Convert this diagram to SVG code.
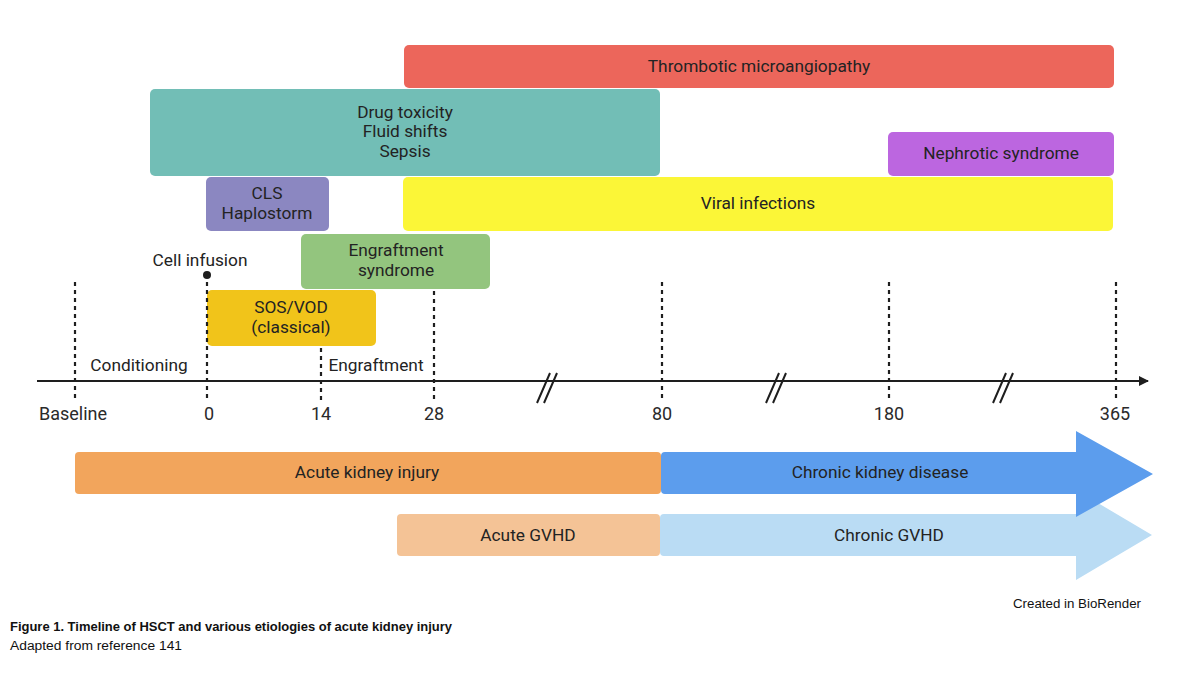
<svg xmlns="http://www.w3.org/2000/svg" width="1200" height="675" viewBox="0 0 1200 675">
<defs>
<style>
.lbl{font-family:Roboto,"Liberation Sans",sans-serif;font-size:17.3px;fill:#232323;text-anchor:middle}
.tick{font-family:Roboto,"Liberation Sans",sans-serif;font-size:18px;fill:#2a2a2a;text-anchor:middle}
.dot{stroke:#1e1e1e;stroke-width:2.2;stroke-dasharray:4 4;fill:none}
.cap{font-family:"Liberation Sans",Arial,sans-serif;font-size:12.5px;fill:#111}
.brk{stroke:#1e1e1e;stroke-width:2;fill:none}
</style>
<marker id="ah" markerWidth="10" markerHeight="10" refX="9" refY="5" orient="auto" markerUnits="userSpaceOnUse">
<path d="M0,0 L10,5 L0,10 Z" fill="#1e1e1e"/>
</marker>
</defs>
<rect width="1200" height="675" fill="#fff"/>

<g id="tma"><rect x="404" y="45" width="710" height="43" rx="5" fill="#ec665b"/><text class="lbl" x="759" y="72">Thrombotic microangiopathy</text></g>
<g id="drug"><rect x="150" y="89" width="510" height="87" rx="5" fill="#72beb6"/><text class="lbl" x="405" y="118">Drug toxicity</text><text class="lbl" x="405" y="137">Fluid shifts</text><text class="lbl" x="405" y="157">Sepsis</text></g>
<g id="nephrotic"><rect x="888" y="132" width="226" height="44" rx="5" fill="#bc66e0"/><text class="lbl" x="1001" y="159">Nephrotic syndrome</text></g>
<g id="cls"><rect x="206" y="177" width="123" height="54" rx="5" fill="#8b87c1"/><text class="lbl" x="267" y="199">CLS</text><text class="lbl" x="267" y="219">Haplostorm</text></g>
<g id="viral"><rect x="403" y="177" width="710" height="54" rx="5" fill="#fbf637"/><text class="lbl" x="758" y="209">Viral infections</text></g>
<g id="engraft-syn"><rect x="301" y="234" width="189" height="55" rx="5" fill="#93c57e"/><text class="lbl" x="396" y="256">Engraftment</text><text class="lbl" x="396" y="276">syndrome</text></g>
<g id="sos"><rect x="207" y="290" width="169" height="56" rx="5" fill="#f1c41a"/><text class="lbl" x="291" y="313">SOS/VOD</text><text class="lbl" x="291" y="333">(classical)</text></g>

<g id="connectors">
<line x1="37" y1="381" x2="1148" y2="381" stroke="#1e1e1e" stroke-width="2" marker-end="url(#ah)"/>
<line class="dot" x1="75" y1="282" x2="75" y2="402"/>
<line class="dot" x1="207" y1="282" x2="207" y2="402"/>
<line class="dot" x1="321" y1="348" x2="321" y2="402"/>
<line class="dot" x1="434" y1="291" x2="434" y2="402"/>
<line class="dot" x1="662" y1="282" x2="662" y2="402"/>
<line class="dot" x1="889" y1="282" x2="889" y2="402"/>
<line class="dot" x1="1116" y1="282" x2="1116" y2="402"/>
<circle cx="207" cy="275" r="4" fill="#1e1e1e"/>
<g class="brk">
<path d="M537,403 L550,373 M544,403 L557,373"/>
<path d="M766,403 L779,373 M773,403 L786,373"/>
<path d="M993,403 L1006,373 M1000,403 L1013,373"/>
</g>
</g>

<g id="axis-labels">
<text class="lbl" x="200" y="266">Cell infusion</text>
<text class="lbl" x="139" y="371">Conditioning</text>
<text class="lbl" x="376" y="371">Engraftment</text>
<text class="tick" x="73" y="420">Baseline</text>
<text class="tick" x="209" y="420">0</text>
<text class="tick" x="321" y="420">14</text>
<text class="tick" x="434" y="420">28</text>
<text class="tick" x="662" y="420">80</text>
<text class="tick" x="889" y="420">180</text>
<text class="tick" x="1115" y="420">365</text>
</g>

<g id="aki"><rect x="75" y="452" width="586" height="42" rx="4" fill="#f2a55c"/><text class="lbl" x="367" y="478">Acute kidney injury</text></g>
<g id="agvhd"><rect x="397" y="514" width="263" height="42" rx="4" fill="#f4c396"/><text class="lbl" x="528" y="541">Acute GVHD</text></g>
<g id="cgvhd"><path d="M664,514 L1076,514 L1076,490 L1152,535 L1076,580 L1076,556 L664,556 Q660,556 660,552 L660,518 Q660,514 664,514 Z" fill="#badcf4"/><text class="lbl" x="889" y="541">Chronic GVHD</text></g>
<g id="ckd"><path d="M665,452 L1076,452 L1076,431 L1153,474 L1076,517 L1076,494 L665,494 Q661,494 661,490 L661,456 Q661,452 665,452 Z" fill="#5c9ded"/><text class="lbl" x="880" y="478">Chronic kidney disease</text></g>

<g id="captions">
<text class="cap" x="1013" y="608" textLength="128" lengthAdjust="spacingAndGlyphs">Created in BioRender</text>
<text class="cap" x="10" y="631" font-weight="bold" textLength="442" lengthAdjust="spacingAndGlyphs">Figure 1. Timeline of HSCT and various etiologies of acute kidney injury</text>
<text class="cap" x="10" y="650" textLength="172" lengthAdjust="spacingAndGlyphs">Adapted from reference 141</text>
</g>
</svg>
